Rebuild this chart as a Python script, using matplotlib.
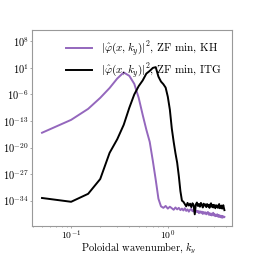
import matplotlib
matplotlib.use("Agg")
import matplotlib.pyplot as plt
import numpy as np
from matplotlib.ticker import NullLocator

# poloidal wavenumber grid (0.05 .. 3.85)
ky = np.round(np.arange(1, 78) * 0.05, 2)

# log10 |phi|^2, ZF min, KH
kh_log = [-16.1, -12.7, -9.8, -6.9, -4.3, -1.8, -0.2, -1.1, -3.2, -6.9,
          -11.4, -15.3, -18.5, -23.5, -28.5, -33.5, -35.5,
          -35.9, -35.4, -36.1, -35.6, -36.0, -36.4, -35.8, -36.3, -35.9, -36.5,
          -36.1, -36.6, -36.0, -36.7, -36.3, -36.9, -36.4, -36.2, -36.8, -36.5,
          -37.1, -36.6, -37.0, -36.7, -37.3, -36.8, -37.2, -36.9, -37.5, -37.0,
          -37.4, -37.1, -37.6, -37.2, -37.0, -37.7, -37.3, -37.8, -37.4, -37.9,
          -37.5, -37.2, -37.9, -37.6, -38.1, -37.7, -38.0, -37.6, -38.2, -37.8,
          -38.3, -37.9, -38.1, -38.4, -38.0, -38.5, -38.1, -38.4, -38.2, -38.3]

# log10 |phi|^2, ZF min, ITG
itg_log = [-33.3, -34.3, -32.2, -28.3, -21.4, -17.8, -14.0, -9.5, -6.0, -3.8,
           -2.3, -0.5, 0.2, 1.0, 1.2, -1.3, -2.6, -3.3, -4.2, -6.6,
           -10.0, -15.0, -18.5, -21.5, -24.0, -27.5, -31.5, -34.0, -34.3,
           -34.9, -35.5, -34.6, -35.3, -34.8, -35.7, -34.7, -35.2, -37.6, -35.0,
           -34.5, -35.4, -34.9, -35.6, -34.6, -35.1, -35.8, -34.8, -35.3, -35.0,
           -35.7, -34.9, -35.5, -35.1, -35.9, -35.0, -34.7, -35.6, -35.2, -35.8,
           -35.1, -35.5, -36.0, -35.2, -35.7, -35.3, -35.9, -35.4, -34.9, -36.0,
           -35.5, -35.8, -35.3, -36.1, -35.6, -35.2, -35.9, -36.5]

yticks = [8, 1, -6, -13, -20, -27, -34]

plt.rcParams['font.family'] = 'serif'
plt.rcParams['font.serif'] = ['cmr10', 'DejaVu Serif']
plt.rcParams['mathtext.fontset'] = 'cm'
plt.rcParams['axes.formatter.use_mathtext'] = True
plt.rcParams['font.size'] = 7.5

fig = plt.figure(figsize=(2.59, 2.54), dpi=100)
ax = fig.add_axes([0.124, 0.110, 0.772, 0.772])

ax.plot(ky, 10.0 ** np.array(kh_log), color='#9467bd', linewidth=1.4,
        label=r'$|\hat{\varphi}(x,k_y)|^2$, ZF min, KH')
ax.plot(ky, 10.0 ** np.array(itg_log), color='black', linewidth=1.4,
        label=r'$|\hat{\varphi}(x,k_y)|^2$, ZF min, ITG')

ax.set_xscale('log')
ax.set_yscale('log')
ax.set_xlim(0.0395, 4.62)
ax.set_ylim(10.0 ** -40.7, 10.0 ** 11.0)
ax.set_yticks([10.0 ** t for t in yticks])
ax.yaxis.set_minor_locator(NullLocator())
ax.set_xlabel(r'Poloidal wavenumber, $k_y$')
ax.xaxis.set_label_coords(0.535, -0.072)

for s in ax.spines.values():
    s.set_color('#999999')
    s.set_linewidth(0.8)
ax.tick_params(which='both', color='#999999', length=1.5, width=0.6, pad=1)
ax.tick_params(which='minor', length=1)
ax.tick_params(axis='x', pad=0, labelsize=7)

ax.legend(loc='upper right', frameon=False, fontsize=8, handlelength=2.4,
          labelspacing=0.3, borderaxespad=0.5, handletextpad=0.8)

fig.savefig('out.png', dpi=100)
